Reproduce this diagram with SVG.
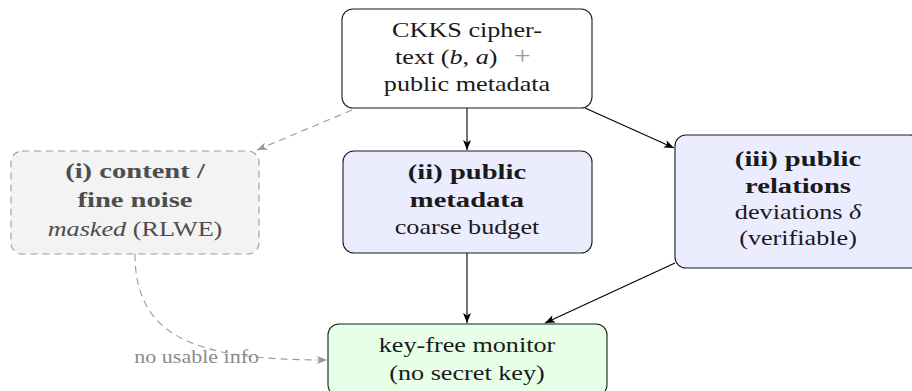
<svg xmlns="http://www.w3.org/2000/svg" width="912" height="391" viewBox="0 0 912 391">
<style>
  text { font-family: "Liberation Serif", "Times New Roman", serif; font-size: 22px; fill: #1a1a1a; text-anchor: middle; }
  .b { font-weight: bold; }
  .it { font-style: italic; }
  .gray text { fill: #4d4d4d; }
  .box { stroke: #1a1a1a; stroke-width: 1.1; }
  .edge { stroke: #000; stroke-width: 1.1; fill: none; marker-end: url(#ah); }
  .dash { stroke: #999; stroke-width: 1.1; fill: none; stroke-dasharray: 7 5; marker-end: url(#ahg); }
  .lbl { font-size: 18.5px; fill: #8c8c8c; text-anchor: end; }
</style>
<defs>
  <marker id="ah" markerWidth="12" markerHeight="10" refX="10" refY="4" orient="auto" markerUnits="userSpaceOnUse">
    <path d="M0,0 L10,4 L0,8 L2.5,4 z" fill="#000"/>
  </marker>
  <marker id="ahg" markerWidth="12" markerHeight="10" refX="10" refY="4" orient="auto" markerUnits="userSpaceOnUse">
    <path d="M0,0 L10,4 L0,8 L2.5,4 z" fill="#999"/>
  </marker>
</defs>
<rect width="912" height="391" fill="#fff"/>

<g id="connectors">
  <path class="edge" d="M467,108 L467,150"/>
  <path class="edge" d="M585,108 L674,148"/>
  <path class="dash" d="M352,110 L257,150"/>
  <path class="edge" d="M467,253 L467,323"/>
  <path class="edge" d="M675,263 L545,323"/>
  <path class="dash" d="M135,254 C135,340 200,360 327,360"/>
  <text class="lbl" transform="translate(259,363) scale(1.19,1)">no usable info</text>
</g>

<g id="ciphertext">
  <rect class="box" x="342" y="9" width="250" height="99" rx="11" fill="#fff"/>
  <text transform="translate(467,37) scale(1.19,1)">CKKS cipher-</text>
  <text transform="translate(395,64) scale(1.19,1)" style="text-anchor:start">text (<tspan class="it">b</tspan>, <tspan class="it">a</tspan>)<tspan x="100" fill="#999" font-size="25">+</tspan></text>
  <text transform="translate(467,91) scale(1.19,1)">public metadata</text>
</g>

<g id="content" class="gray">
  <rect x="11" y="151" width="248" height="103" rx="11" fill="#f3f3f3" stroke="#999" stroke-width="1.1" stroke-dasharray="7 5"/>
  <text class="b" transform="translate(135,178) scale(1.3,1)">(i) content /</text>
  <text class="b" transform="translate(135,207) scale(1.3,1)">fine noise</text>
  <text transform="translate(135,236) scale(1.19,1)"><tspan class="it">masked</tspan> (RLWE)</text>
</g>

<g id="metadata">
  <rect class="box" x="343" y="151" width="249" height="102" rx="11" fill="#ececff"/>
  <text class="b" transform="translate(467,179) scale(1.3,1)">(ii) public</text>
  <text class="b" transform="translate(467,207) scale(1.3,1)">metadata</text>
  <text transform="translate(467,234) scale(1.19,1)">coarse budget</text>
</g>

<g id="relations">
  <rect class="box" x="675" y="135" width="246" height="133" rx="11" fill="#ececff"/>
  <text class="b" transform="translate(798,166) scale(1.3,1)">(iii) public</text>
  <text class="b" transform="translate(798,193) scale(1.3,1)">relations</text>
  <text transform="translate(798,219) scale(1.19,1)">deviations <tspan class="it">δ</tspan></text>
  <text transform="translate(798,245) scale(1.19,1)">(verifiable)</text>
</g>

<g id="monitor">
  <rect class="box" x="328" y="324" width="279" height="72" rx="11" fill="#e6ffe6"/>
  <text transform="translate(467,352) scale(1.19,1)">key-free monitor</text>
  <text transform="translate(467,380) scale(1.19,1)">(no secret key)</text>
</g>
</svg>
